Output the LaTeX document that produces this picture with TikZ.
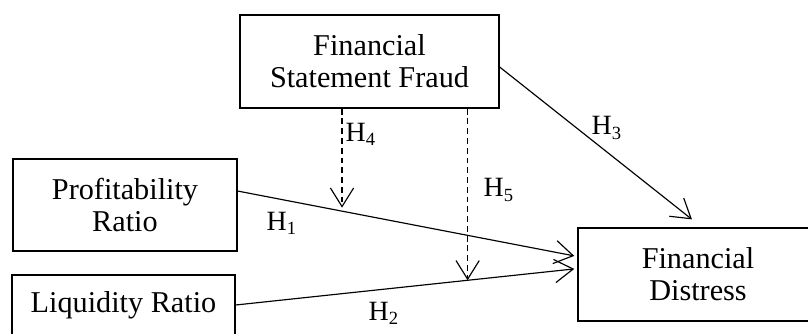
\documentclass[tikz,border=0pt]{standalone}
\usepackage{fontspec}
\setmainfont{Liberation Serif}
\usepackage{tikz}
\usetikzlibrary{arrows.meta}

\begin{document}
\begin{tikzpicture}[x=0.43pt, y=-0.43pt,
    var/.style={draw, line width=0.6pt, align=center, inner sep=0pt, font=\fontsize{13}{13.8}\selectfont},
    eff/.style={line width=0.5pt, -{Straight Barb[length=8pt,width=10pt]}},
    mod/.style={eff, dashed, dash pattern=on 2.5pt off 1.7pt},
    hyp/.style={inner sep=0pt, font=\fontsize{12}{12}\selectfont}]

    \clip (0,0) rectangle (808,334);

    \node[var, minimum width=111.4pt, minimum height=40pt]   (fraud) at (369.5,61.5) {Financial\\Statement Fraud};
    \node[var, minimum width=96.3pt, minimum height=39.6pt]  (prof)  at (125,205)    {Profitability\\Ratio};
    \node[var, minimum width=95.9pt, minimum height=25.8pt]  (liq)   at (123.5,305)  {Liquidity Ratio};
    \node[var, minimum width=103.2pt, minimum height=40pt]   (dist)  at (698,274.5)  {Financial\\Distress};

    \draw[eff] ([yshift=6pt]prof.east) -- coordinate[pos=0.31] (m1) ([xshift=-1.3pt,yshift=8pt]dist.west); %
    \draw[eff] (liq.east) -- coordinate[pos=0.685] (m2) ([xshift=-1.3pt,yshift=2.4pt]dist.west); %
    \draw[eff] ([yshift=-2.4pt]fraud.east) -- ([xshift=-2.6pt,yshift=3.4pt]dist.north); %
    \draw[mod] (fraud.south -| m1) -- ([yshift=1.5pt]m1); %
    \draw[mod] (fraud.south -| m2) -- (m2); %

    \node[hyp] (h1) at (282,223) {H\textsubscript{1}};
    \node[hyp] (h2) at (384,313) {H\textsubscript{2}};
    \node[hyp] (h3) at (607,128) {H\textsubscript{3}};
    \node[hyp] (h4) at (361,134) {H\textsubscript{4}};
    \node[hyp] (h5) at (499,190) {H\textsubscript{5}};

\end{tikzpicture}
\end{document}
